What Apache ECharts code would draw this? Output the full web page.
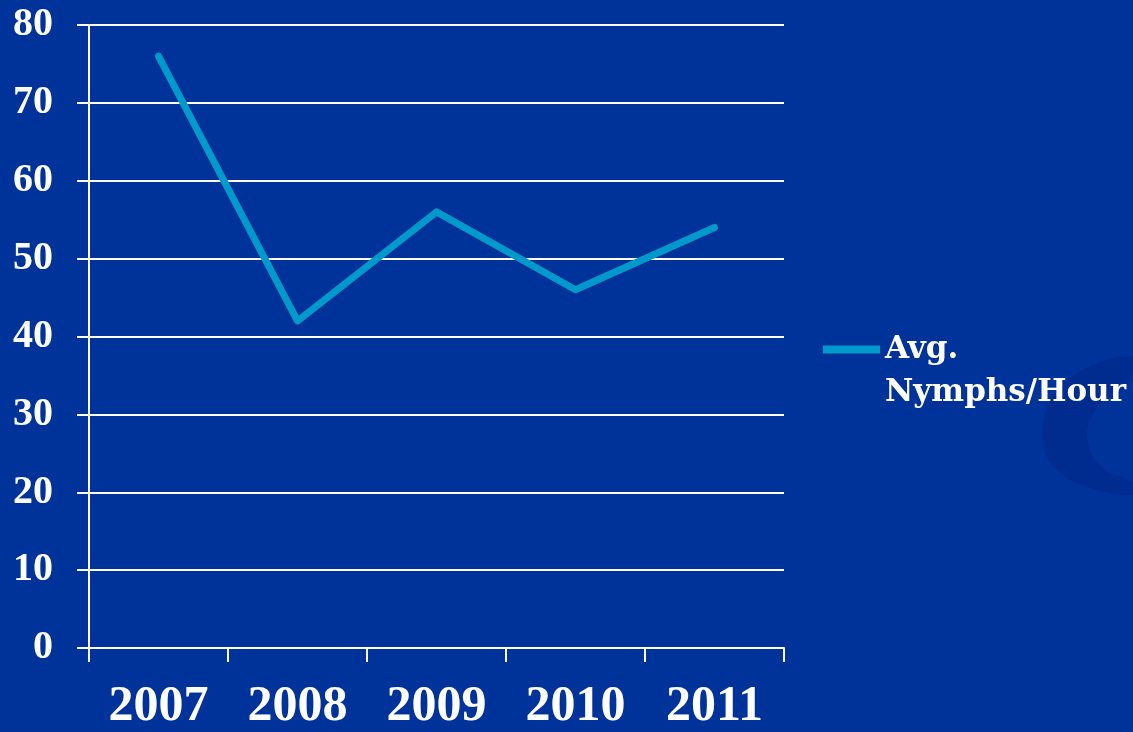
<!DOCTYPE html>
<html>
<head>
<meta charset="utf-8">
<script src="https://cdn.jsdelivr.net/npm/echarts@6/dist/echarts.min.js"></script>
<style>
html,body{margin:0;padding:0;background:#003399;}
#chart{width:1133px;height:732px;}
</style>
</head>
<body>
<div id="chart"></div>
<script>
var categories = ['2007', '2008', '2009', '2010', '2011'];
var nymphsPerHour = [76, 42, 56, 46, 54];
var seriesName = 'Avg.\nNymphs/Hour';

var chart = echarts.init(document.getElementById('chart'));
chart.setOption({
  backgroundColor: '#003399',
  animation: false,
  graphic: [{
    type: 'polygon',
    silent: true,
    z: -1,
    shape: {
      smooth: 0.3,
      points: [[1133,357],[1100,362],[1070,378],[1050,400],[1042,433],[1048,460],[1070,480],[1100,491],[1133,495],
               [1133,482],[1108,472],[1093,457],[1087,433],[1095,410],[1112,392],[1133,378]]
    },
    style: { fill: 'rgba(0,25,115,0.25)' }
  }],
  grid: { left: 89, right: 349, top: 25, bottom: 84, containLabel: false },
  legend: {
    left: 823,
    top: 328,
    padding: 0,
    orient: 'vertical',
    itemWidth: 57,
    itemHeight: 86,
    itemGap: 0,
    icon: 'path://M0,0h0.05v0.05h-0.05z M0,17.5h57v8h-57z M0,85.95h0.05v0.05h-0.05z',
    data: [seriesName],
    textStyle: {
      color: '#ffffff',
      fontFamily: 'DejaVu Serif',
      fontWeight: 'bold',
      fontSize: 31,
      lineHeight: 43
    }
  },
  xAxis: {
    type: 'category',
    data: categories,
    boundaryGap: true,
    axisLine: { show: true, lineStyle: { color: '#ffffff', width: 2 } },
    axisTick: { show: true, length: 14, lineStyle: { color: '#ffffff', width: 2 } },
    axisLabel: {
      color: '#ffffff',
      fontFamily: 'Liberation Serif',
      fontWeight: 'bold',
      fontSize: 50,
      margin: 34
    },
    splitLine: { show: false }
  },
  yAxis: {
    type: 'value',
    min: 0,
    max: 80,
    interval: 10,
    axisLine: { show: true, lineStyle: { color: '#ffffff', width: 2 } },
    axisTick: { show: true, length: 12, lineStyle: { color: '#ffffff', width: 2 } },
    axisLabel: {
      color: '#ffffff',
      fontFamily: 'Liberation Serif',
      fontWeight: 'bold',
      fontSize: 40,
      margin: 36
    },
    splitLine: { show: true, lineStyle: { color: '#ffffff', width: 2 } }
  },
  series: [{
    name: seriesName,
    type: 'line',
    data: nymphsPerHour,
    symbol: 'none',
    color: '#0099cc',
    lineStyle: { color: '#0099cc', width: 7, cap: 'round', join: 'round' }
  }]
});
</script>
</body>
</html>
